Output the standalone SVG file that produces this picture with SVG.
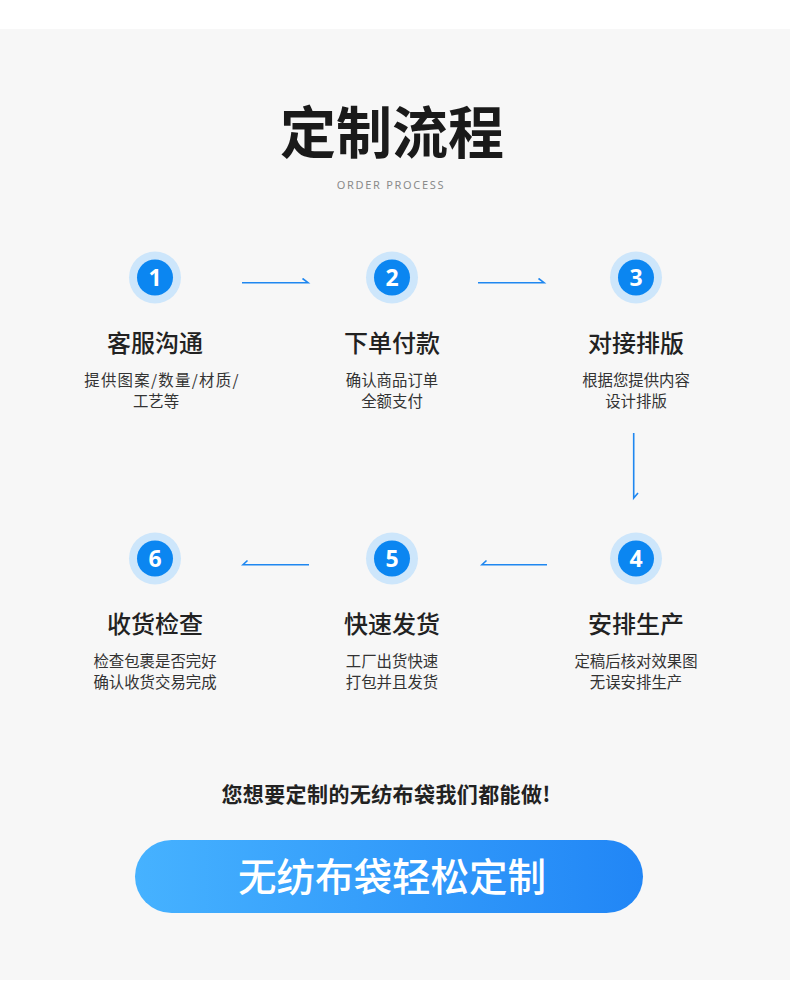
<svg xmlns="http://www.w3.org/2000/svg" width="790" height="994" viewBox="0 0 790 994">
<defs>
<linearGradient id="btn" x1="0" y1="0" x2="1" y2="0">
<stop offset="0" stop-color="#46b2ff"/>
<stop offset="1" stop-color="#2186f6"/>
</linearGradient>
<style>
.cjk{font-family:"Noto Sans CJK SC","Noto Sans",sans-serif;text-anchor:middle}
.h{font-size:24px;font-weight:500;fill:#222}
.d{font-size:15.4px;fill:#333}
.ring{fill:#cde6fb}
.dot{fill:#0b86f1}
.num{font-family:"Noto Sans",Roboto,sans-serif;font-size:23px;font-weight:700;fill:#fff;text-anchor:middle}
.ln{stroke:#1f87f0;stroke-width:1.6;fill:none}
</style>
</defs>
<rect x="0" y="0" width="790" height="994" fill="#ffffff"/>
<rect x="0" y="29" width="790" height="951" fill="#f7f7f7"/>
<g id="title">
<text class="cjk" x="392" y="153" font-size="56" font-weight="700" fill="#1a1a1a">定制流程</text>
<text x="391" y="189" font-family="'Noto Sans','Open Sans',sans-serif" font-size="11" letter-spacing="1.7" fill="#8a8a8a" text-anchor="middle">ORDER PROCESS</text>
</g>
<g id="step1">
<circle class="ring" cx="155" cy="277.5" r="26"/>
<circle class="dot" cx="155" cy="277.5" r="18"/>
<text class="num" x="155" y="285.5">1</text>
<text class="cjk h" x="155" y="352">客服沟通</text>
<text class="cjk d" x="162" y="386" letter-spacing="1.3">提供图案/数量/材质/</text>
<text class="cjk d" x="156" y="407">工艺等</text>
</g>
<g id="step2">
<circle class="ring" cx="392" cy="277.5" r="26"/>
<circle class="dot" cx="392" cy="277.5" r="18"/>
<text class="num" x="392" y="285.5">2</text>
<text class="cjk h" x="392" y="352">下单付款</text>
<text class="cjk d" x="392" y="386">确认商品订单</text>
<text class="cjk d" x="392" y="407">全额支付</text>
</g>
<g id="step3">
<circle class="ring" cx="636" cy="277.5" r="26"/>
<circle class="dot" cx="636" cy="277.5" r="18"/>
<text class="num" x="636" y="285.5">3</text>
<text class="cjk h" x="636" y="352">对接排版</text>
<text class="cjk d" x="636" y="386">根据您提供内容</text>
<text class="cjk d" x="636" y="407">设计排版</text>
</g>
<g id="step4">
<circle class="ring" cx="636" cy="558.5" r="26"/>
<circle class="dot" cx="636" cy="558.5" r="18"/>
<text class="num" x="636" y="566.5">4</text>
<text class="cjk h" x="636" y="633">安排生产</text>
<text class="cjk d" x="636" y="667">定稿后核对效果图</text>
<text class="cjk d" x="636" y="688">无误安排生产</text>
</g>
<g id="step5">
<circle class="ring" cx="392" cy="558.5" r="26"/>
<circle class="dot" cx="392" cy="558.5" r="18"/>
<text class="num" x="392" y="566.5">5</text>
<text class="cjk h" x="392" y="633">快速发货</text>
<text class="cjk d" x="392" y="667">工厂出货快速</text>
<text class="cjk d" x="392" y="688">打包并且发货</text>
</g>
<g id="step6">
<circle class="ring" cx="155" cy="558.5" r="26"/>
<circle class="dot" cx="155" cy="558.5" r="18"/>
<text class="num" x="155" y="566.5">6</text>
<text class="cjk h" x="155" y="633">收货检查</text>
<text class="cjk d" x="155" y="667">检查包裹是否完好</text>
<text class="cjk d" x="155" y="688">确认收货交易完成</text>
</g>
<g id="connectors">
<path class="ln" d="M242 282.7H308L302.5 278.5"/>
<path class="ln" d="M478 282.7H544L538.5 278.5"/>
<path class="ln" d="M633.7 433V498L638 493"/>
<path class="ln" d="M547 564.7H482L486.5 560.5"/>
<path class="ln" d="M309 564.7H243L247.5 560.5"/>
</g>
<g id="cta">
<text class="cjk" x="386" y="802" font-size="21" font-weight="700" letter-spacing="0.4" fill="#222">您想要定制的无纺布袋我们都能做!</text>
<rect x="135" y="840" width="508" height="73" rx="36.5" fill="url(#btn)"/>
<text class="cjk" x="392" y="891" font-size="38.5" font-weight="500" fill="#ffffff">无纺布袋轻松定制</text>
</g>
</svg>
